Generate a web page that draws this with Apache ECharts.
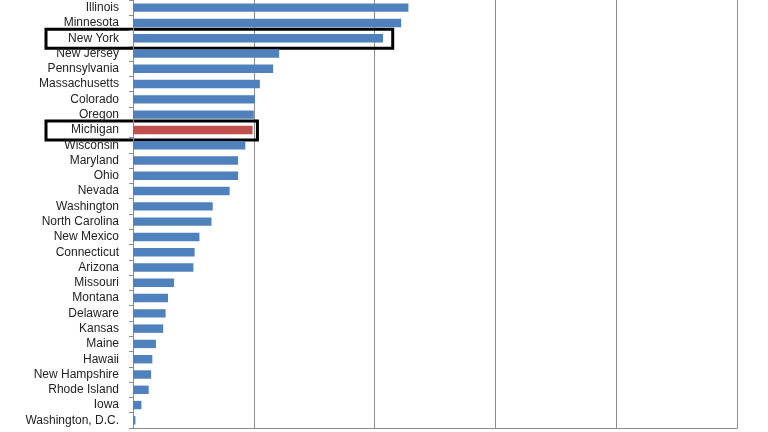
<!DOCTYPE html><html><head><meta charset="utf-8">
<script src="https://cdn.jsdelivr.net/npm/echarts@6/dist/echarts.min.js"></script>
<style>html,body{margin:0;background:#fff}#c{width:768px;height:432px}</style></head><body><div id="c"></div>
<script>
const states=["Illinois","Minnesota","New York","New Jersey","Pennsylvania","Massachusetts","Colorado","Oregon","Michigan","Wisconsin","Maryland","Ohio","Nevada","Washington","North Carolina","New Mexico","Connecticut","Arizona","Missouri","Montana","Delaware","Kansas","Maine","Hawaii","New Hampshire","Rhode Island","Iowa","Washington, D.C."];
const values=[2.28,2.22,2.07,1.21,1.16,1.05,1.01,1.0,0.99,0.93,0.87,0.87,0.80,0.66,0.65,0.55,0.51,0.50,0.34,0.29,0.27,0.25,0.19,0.16,0.15,0.13,0.07,0.02];
const highlight="Michigan";
const boxes=[{name:"New York",right:2.15},{name:"Michigan",right:1.03}];
const chart=echarts.init(document.getElementById('c'));
chart.setOption({
 animation:false,
 grid:{left:133,right:31,top:-2,bottom:4,containLabel:false},
 xAxis:{type:'value',min:0,max:5,interval:1,axisLabel:{show:false},axisTick:{show:false},
  splitLine:{lineStyle:{color:'#8c8c8c'}},axisLine:{show:true,lineStyle:{color:'#8c8c8c'}}},
 yAxis:{type:'category',inverse:true,data:states,axisLine:{lineStyle:{color:'#8c8c8c'}},
  axisTick:{show:true,length:4,lineStyle:{color:'#8c8c8c'}},
  axisLabel:{fontFamily:'Liberation Sans, Arial',fontSize:12,color:'#222',margin:14,interval:0}},
 series:[{type:'bar',barCategoryGap:'45%',
  data:values.map((v,i)=>({value:v,itemStyle:{color:states[i]===highlight?'#c0504d':'#4f81bd'}}))}]
});
const g=[];
boxes.forEach(b=>{
 const p=chart.convertToPixel({xAxisIndex:0,yAxisIndex:0},[b.right,b.name]);
 g.push({type:'rect',shape:{x:46,y:p[1]-9,width:p[0]-46,height:19},style:{fill:'none',stroke:'#000',lineWidth:3}});
});
chart.setOption({graphic:g});
</script></body></html>
